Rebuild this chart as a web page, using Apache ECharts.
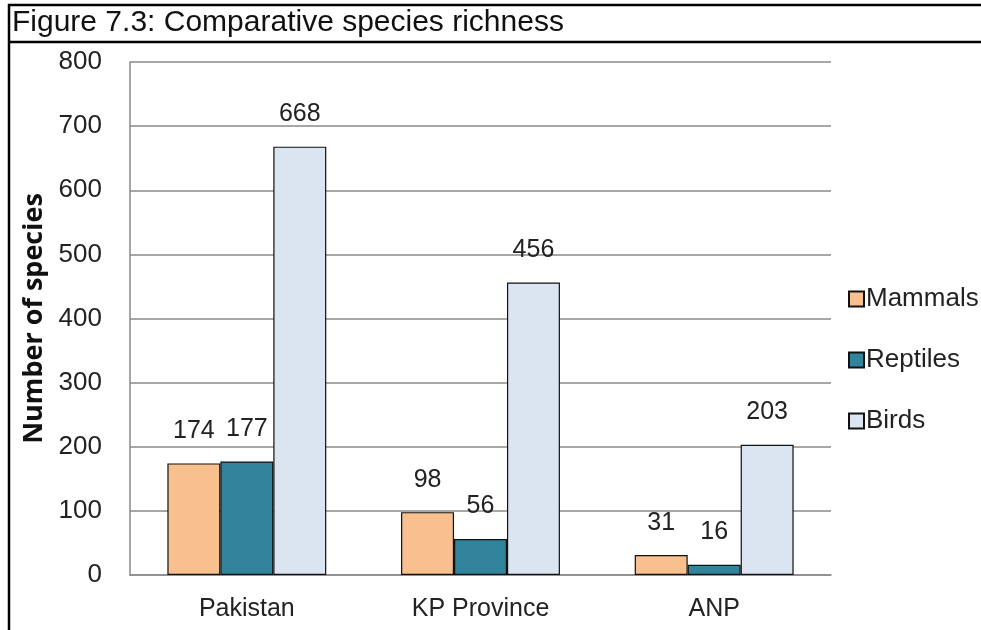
<!DOCTYPE html>
<html>
<head>
<meta charset="utf-8">
<script src="https://cdn.jsdelivr.net/npm/echarts@6/dist/echarts.min.js"></script>
<style>
  html, body { margin: 0; padding: 0; background: #fff; }
  #chart { width: 981px; height: 630px; }
</style>
</head>
<body>
<div id="chart"></div>
<script>
// Species counts per region
const regions = ['Pakistan', 'KP Province', 'ANP'];
const mammals = [174, 98, 31];
const reptiles = [177, 56, 16];
const birds = [668, 456, 203];
const yTicks = { min: 0, max: 800, step: 100 };

const labelFont = '"Liberation Sans", Arial, sans-serif';
const colors = { mammals: '#F9C08F', reptiles: '#31849B', birds: '#DBE5F1' };

function barSeries(name, data, color) {
  return {
    name: name,
    type: 'bar',
    data: data,
    barGap: '0%',
    barCategoryGap: '32%',
    itemStyle: { color: color, borderColor: '#111', borderWidth: 1.2 },
    label: {
      show: true,
      position: 'top',
      distance: 20,
      color: '#222',
      fontFamily: labelFont,
      fontSize: 25
    }
  };
}

const chart = echarts.init(document.getElementById('chart'), null, { renderer: 'canvas' });
chart.setOption({
  animation: false,
  backgroundColor: '#fff',
  graphic: [
    { type: 'line', shape: { x1: 8, y1: 5, x2: 981, y2: 5 }, style: { stroke: '#000', lineWidth: 2.5 } },
    { type: 'line', shape: { x1: 8, y1: 42, x2: 981, y2: 42 }, style: { stroke: '#000', lineWidth: 2.5 } },
    { type: 'line', shape: { x1: 9, y1: 4, x2: 9, y2: 630 }, style: { stroke: '#000', lineWidth: 2.5 } },
    {
      type: 'text', left: 12, top: 8,
      style: {
        text: 'Figure 7.3: Comparative species richness',
        fill: '#111',
        font: '30px "Liberation Sans", Arial, sans-serif'
      }
    }
  ],
  grid: { left: 130, right: 150, top: 62, bottom: 55, containLabel: false },
  legend: {
    orient: 'vertical',
    left: 843,
    top: 281,
    itemGap: 35,
    itemWidth: 15,
    itemHeight: 15,
    icon: 'rect',
    textStyle: { fontFamily: labelFont, fontSize: 26, color: '#222', padding: [0, 0, 0, -3] },
    data: ['Mammals', 'Reptiles', 'Birds']
  },
  xAxis: {
    type: 'category',
    data: regions,
    axisLine: { lineStyle: { color: '#8a8a8a', width: 1.5 } },
    axisTick: { show: false },
    axisLabel: { margin: 22, color: '#222', fontFamily: labelFont, fontSize: 25 }
  },
  yAxis: {
    type: 'value',
    min: yTicks.min,
    max: yTicks.max,
    interval: yTicks.step,
    name: 'Number of species',
    nameLocation: 'middle',
    nameGap: 80,
    nameTextStyle: { fontFamily: '"Open Sans", "DejaVu Sans", sans-serif', fontWeight: 'bold', fontSize: 27, color: '#111' },
    axisLine: { show: true, lineStyle: { color: '#8a8a8a', width: 1.5 } },
    axisTick: { show: false },
    splitLine: { lineStyle: { color: '#8a8a8a', width: 1.5 } },
    axisLabel: { margin: 28, color: '#222', fontFamily: labelFont, fontSize: 26 }
  },
  series: [
    barSeries('Mammals', mammals, colors.mammals),
    barSeries('Reptiles', reptiles, colors.reptiles),
    barSeries('Birds', birds, colors.birds)
  ]
});
</script>
</body>
</html>
